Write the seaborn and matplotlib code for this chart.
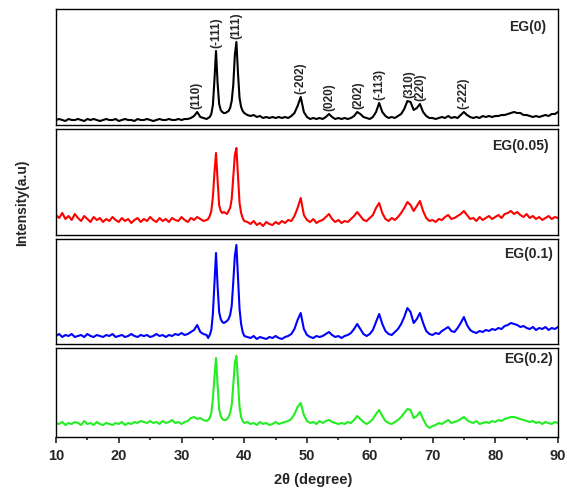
import matplotlib
matplotlib.use('Agg')
import matplotlib.pyplot as plt
from matplotlib.ticker import MultipleLocator
import pandas as pd
import seaborn as sns

# 2theta sampling grid (degrees): coarse, fine around the two main peaks, coarse
two_theta_a = [10, 10.5, 11, 11.5, 12, 12.5, 13, 13.5, 14, 14.5,
               15, 15.5, 16, 16.5, 17, 17.5, 18, 18.5, 19, 19.5,
               20, 20.5, 21, 21.5, 22, 22.5, 23, 23.5, 24, 24.5,
               25, 25.5, 26, 26.5, 27, 27.5, 28, 28.5, 29, 29.5,
               30, 30.5, 31, 31.5, 32, 32.5, 33, 33.5, 34]
two_theta_b = [34.25, 34.5, 34.75, 35, 35.25, 35.5, 35.75, 36, 36.25, 36.5,
               36.75, 37, 37.25, 37.5, 37.75, 38, 38.25, 38.5, 38.75, 39,
               39.25, 39.5, 39.75, 40]
two_theta_c = [40.5, 41, 41.5, 42, 42.5, 43, 43.5, 44, 44.5, 45,
               45.5, 46, 46.5, 47, 47.5, 48, 48.5, 49, 49.5, 50,
               50.5, 51, 51.5, 52, 52.5, 53, 53.5, 54, 54.5, 55,
               55.5, 56, 56.5, 57, 57.5, 58, 58.5, 59, 59.5, 60,
               60.5, 61, 61.5, 62, 62.5, 63, 63.5, 64, 64.5, 65,
               65.5, 66, 66.5, 67, 67.5, 68, 68.5, 69, 69.5, 70,
               70.5, 71, 71.5, 72, 72.5, 73, 73.5, 74, 74.5, 75,
               75.5, 76, 76.5, 77, 77.5, 78, 78.5, 79, 79.5, 80,
               80.5, 81, 81.5, 82, 82.5, 83, 83.5, 84, 84.5, 85,
               85.5, 86, 86.5, 87, 87.5, 88, 88.5, 89, 89.5, 90]

# intensities (a.u.)
eg0_a = [5, 6, 5, 4, 6, 5, 5, 6, 5, 4,
         6, 5, 6, 5, 4, 5, 6, 5, 5, 6,
         4, 5, 6, 5, 5, 4, 6, 5, 5, 6,
         5, 4, 5, 6, 5, 5, 6, 5, 5, 6,
         5, 6, 6, 7, 9, 13, 8, 7, 6]
eg0_b = [7, 8, 11, 20, 45, 74, 42, 21, 15, 13,
         12, 12, 13, 14, 17, 24, 40, 70, 83, 52,
         27, 18, 14, 12]
eg0_c = [10, 9, 10, 8, 9, 7, 8, 7, 8, 7,
         8, 7, 8, 7, 9, 12, 19, 28, 13, 8,
         6, 7, 6, 7, 6, 8, 11, 8, 6, 7,
         6, 7, 6, 7, 9, 13, 11, 8, 7, 6,
         8, 13, 22, 13, 9, 7, 8, 7, 9, 11,
         16, 24, 23, 15, 17, 21, 13, 9, 7, 7,
         6, 7, 8, 7, 9, 7, 8, 7, 10, 13,
         10, 8, 7, 8, 7, 9, 8, 9, 8, 9,
         9, 10, 10, 11, 12, 13, 12, 12, 10, 10,
         9, 8, 9, 8, 9, 10, 9, 11, 11, 13]

eg005_a = [20, 17, 22, 16, 19, 15, 21, 17, 14, 19,
           16, 13, 18, 15, 17, 13, 16, 14, 18, 15,
           13, 17, 14, 16, 12, 15, 17, 13, 16, 14,
           18, 15, 13, 17, 14, 16, 13, 17, 15, 14,
           18, 15, 13, 17, 15, 18, 16, 14, 15]
eg005_b = [16, 19, 24, 38, 62, 82, 55, 30, 24, 22,
           23, 22, 21, 24, 27, 36, 58, 80, 87, 60,
           32, 22, 17, 14]
eg005_c = [13, 11, 14, 10, 12, 9, 13, 11, 10, 13,
           11, 14, 12, 15, 14, 19, 27, 37, 20, 15,
           13, 16, 12, 14, 15, 18, 21, 16, 13, 15,
           12, 14, 13, 16, 19, 23, 19, 15, 14, 17,
           20, 27, 32, 22, 16, 14, 17, 15, 18, 22,
           27, 33, 30, 24, 29, 34, 24, 17, 14, 15,
           13, 16, 15, 18, 20, 16, 17, 19, 21, 24,
           20, 16, 17, 14, 18, 15, 17, 19, 16, 18,
           20, 17, 21, 22, 24, 21, 23, 20, 18, 21,
           17, 19, 16, 18, 15, 17, 19, 16, 18, 17]

eg01_a = [8, 10, 7, 9, 8, 10, 7, 8, 9, 7,
          10, 8, 7, 9, 8, 7, 9, 8, 10, 7,
          8, 9, 7, 8, 10, 8, 7, 9, 8, 9,
          7, 8, 10, 8, 9, 7, 9, 8, 10, 9,
          11, 9, 10, 12, 14, 19, 12, 10, 9]
eg01_b = [6, 9, 14, 30, 60, 91, 58, 32, 25, 22,
          21, 22, 23, 25, 29, 38, 62, 88, 99, 68,
          35, 20, 12, 8]
eg01_c = [7, 6, 8, 5, 7, 6, 5, 7, 6, 8,
          6, 5, 7, 8, 10, 15, 24, 31, 15, 9,
          7, 6, 8, 7, 8, 10, 12, 9, 7, 8,
          6, 8, 9, 11, 15, 20, 15, 10, 8, 10,
          14, 22, 30, 20, 13, 10, 9, 12, 15, 20,
          27, 36, 32, 21, 25, 31, 21, 13, 10, 9,
          11, 10, 13, 15, 17, 13, 12, 16, 21, 27,
          19, 14, 12, 11, 13, 12, 14, 13, 15, 14,
          16, 15, 18, 19, 21, 20, 19, 17, 18, 16,
          15, 17, 14, 16, 15, 17, 14, 16, 15, 17]

eg02_a = [14, 13, 15, 12, 14, 13, 15, 14, 12, 16,
          13, 14, 12, 15, 13, 12, 14, 13, 12, 14,
          13, 15, 12, 14, 13, 15, 14, 16, 15, 14,
          16, 14, 15, 13, 16, 14, 15, 17, 14, 15,
          13, 15, 16, 19, 20, 18, 19, 17, 16]
eg02_b = [17, 19, 24, 38, 60, 79, 52, 28, 21, 18,
          17, 17, 18, 20, 24, 32, 52, 74, 81, 55,
          30, 20, 16, 14]
eg02_c = [15, 13, 14, 12, 15, 13, 14, 12, 13, 15,
          13, 14, 15, 16, 18, 23, 30, 34, 22, 16,
          14, 15, 13, 16, 14, 16, 17, 15, 14, 13,
          14, 13, 15, 14, 17, 21, 18, 15, 13, 15,
          18, 23, 27, 21, 16, 14, 13, 15, 17, 20,
          24, 28, 27, 19, 21, 25, 18, 12, 9, 11,
          12, 14, 13, 15, 17, 14, 15, 16, 18, 20,
          17, 15, 14, 16, 13, 14, 15, 14, 16, 15,
          17, 16, 18, 19, 20, 20, 19, 18, 17, 16,
          15, 16, 14, 15, 13, 15, 14, 13, 15, 14]

samples = ['EG(0)', 'EG(0.05)', 'EG(0.1)', 'EG(0.2)']
colors = ['black', '#ff0000', '#0000ff', '#22ee22']

peak_labels = ['(110)', '(-111)', '(111)', '(-202)', '(020)', '(202)',
               '(-113)', '(310)', '(220)', '(-222)']
peak_pos = [32.4, 35.6, 38.8, 48.9, 53.6, 58.2, 61.5, 66.3, 68.0, 75.0]

two_theta = two_theta_a + two_theta_b + two_theta_c
series = [eg0_a + eg0_b + eg0_c,
          eg005_a + eg005_b + eg005_c,
          eg01_a + eg01_b + eg01_c,
          eg02_a + eg02_b + eg02_c]

rows = []
for name, vals in zip(samples, series):
    for t, v in zip(two_theta, vals):
        rows.append((name, t, v))
df = pd.DataFrame(rows, columns=['sample', 'two_theta', 'intensity'])

sns.set_style('ticks')
plt.rcParams['font.family'] = ['Liberation Sans', 'DejaVu Sans']
plt.rcParams['font.weight'] = 'bold'

fig = plt.figure(figsize=(5.67, 4.9), dpi=100)
W, H = 567.0, 490.0
left, width = 56 / W, 502 / W
# panel boxes in pixels: top, bottom
boxes = [(9, 125), (129, 235), (239, 344), (348, 437)]
label_pos = [(0.976, 0.846), (0.982, 0.841), (0.990, 0.86), (0.990, 0.879)]

axes = []
for i, (name, col) in enumerate(zip(samples, colors)):
    top, bot = boxes[i]
    ax = fig.add_axes([left, 1 - bot / H, width, (bot - top) / H])
    sub = df[df['sample'] == name]
    sns.lineplot(data=sub, x='two_theta', y='intensity', ax=ax, color=col,
                 lw=1.5, estimator=None)
    ax.set_xlim(10, 90)
    ax.set_ylim(0, bot - top)
    ax.set_xlabel('')
    ax.set_ylabel('')
    ax.set_yticks([])
    for s in ax.spines.values():
        s.set_visible(True)
        s.set_linewidth(1.0)
        s.set_color('black')
    ax.text(label_pos[i][0], label_pos[i][1], name, transform=ax.transAxes,
            ha='right', va='center', fontsize=10, fontweight='bold')
    if i < 3:
        ax.set_xticks([])
    else:
        ax.xaxis.set_major_locator(MultipleLocator(10))
        ax.xaxis.set_minor_locator(MultipleLocator(5))
        ax.tick_params(axis='x', which='major', direction='out', length=4.5,
                       width=1.2, labelsize=10.5, pad=4)
        ax.tick_params(axis='x', which='minor', direction='out', length=2.5,
                       width=1.2)
        for lab in ax.get_xticklabels():
            lab.set_fontweight('bold')
    axes.append(ax)

# hkl labels over the EG(0) peaks
ax0 = axes[0]
for lab, x in zip(peak_labels, peak_pos):
    near = [v for t, v in zip(two_theta, series[0]) if abs(t - x) <= 0.3]
    ax0.text(x, max(near) + 3, lab, rotation=90, ha='center', va='bottom',
             fontsize=8.5, fontweight='bold')

fig.text(22 / W, 1 - 203 / H, 'Intensity(a.u)', rotation=90, ha='center',
         va='center', fontsize=10, fontweight='bold')
fig.text(313 / W, 1 - 480 / H, '2θ (degree)', ha='center', va='center',
         fontsize=10.5, fontweight='bold')

fig.savefig('out.png', dpi=100)
